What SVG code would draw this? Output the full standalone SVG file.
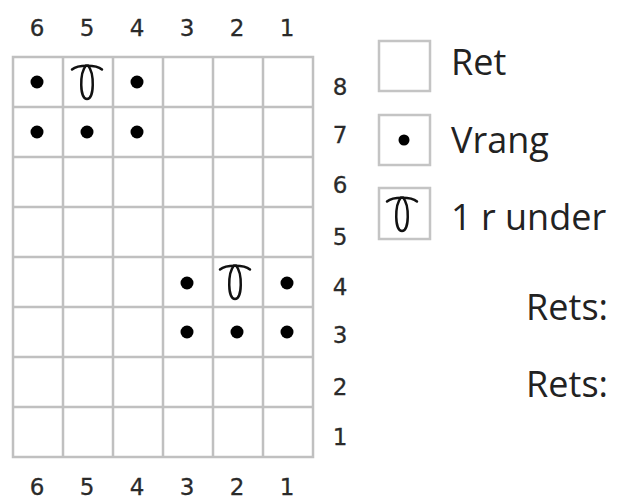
<svg xmlns="http://www.w3.org/2000/svg" width="617" height="499" viewBox="0 0 617 499">
<defs>
<style>
.grid{stroke:#c0c0c0;stroke-width:2.5;fill:none}
.box{stroke:#c4c4c4;stroke-width:2.5;fill:#fff}
.num{font-family:"DejaVu Sans",sans-serif;font-size:23px;fill:#2a2a2a;text-anchor:middle;stroke:#2a2a2a;stroke-width:0.3}
.lbl{font-family:"Open Sans",sans-serif;font-size:36px;fill:#222}
.dot{fill:#000}
.loop{stroke:#111;stroke-width:2.5;fill:none;stroke-linecap:round}
</style>
<g id="loopsym">
<path d="M-15,4.5 C-9,-0.5 9,-0.5 15,4.5"/>
<path d="M-1,0.5 C-7.5,8 -7.5,34 0,34 C7.5,34 7.5,8 1,0.5"/>
</g>
</defs>
<rect width="617" height="499" fill="#fff"/>
<g id="grid" class="grid">
<rect x="13" y="57" width="300" height="400"/>
<path d="M63,57V457M113,57V457M163,57V457M213,57V457M263,57V457"/>
<path d="M13,107H313M13,157H313M13,207H313M13,257H313M13,307H313M13,357H313M13,407H313"/>
</g>
<g id="top-numbers">
<text class="num" x="37" y="36">6</text>
<text class="num" x="87" y="36">5</text>
<text class="num" x="137" y="36">4</text>
<text class="num" x="187" y="36">3</text>
<text class="num" x="237" y="36">2</text>
<text class="num" x="287" y="36">1</text>
</g>
<g id="bottom-numbers">
<text class="num" x="37" y="495">6</text>
<text class="num" x="87" y="495">5</text>
<text class="num" x="137" y="495">4</text>
<text class="num" x="187" y="495">3</text>
<text class="num" x="237" y="495">2</text>
<text class="num" x="287" y="495">1</text>
</g>
<g id="row-numbers">
<text class="num" x="340" y="95">8</text>
<text class="num" x="340" y="143">7</text>
<text class="num" x="340" y="193">6</text>
<text class="num" x="340" y="245">5</text>
<text class="num" x="340" y="295">4</text>
<text class="num" x="340" y="343">3</text>
<text class="num" x="340" y="395">2</text>
<text class="num" x="340" y="445">1</text>
</g>
<g id="stitches">
<circle class="dot" cx="37" cy="82" r="6.5"/>
<circle class="dot" cx="137" cy="82" r="6.5"/>
<circle class="dot" cx="37" cy="132" r="6.5"/>
<circle class="dot" cx="87" cy="132" r="6.5"/>
<circle class="dot" cx="137" cy="132" r="6.5"/>
<circle class="dot" cx="187" cy="283" r="6.5"/>
<circle class="dot" cx="287" cy="283" r="6.5"/>
<circle class="dot" cx="187" cy="332" r="6.5"/>
<circle class="dot" cx="237" cy="332" r="6.5"/>
<circle class="dot" cx="287" cy="332" r="6.5"/>
<use href="#loopsym" class="loop" x="87" y="65"/>
<use href="#loopsym" class="loop" x="235" y="265"/>
</g>
<g id="legend-ret">
<rect class="box" x="379" y="41" width="51" height="50"/>
<text class="lbl" x="451" y="75">Ret</text>
</g>
<g id="legend-vrang">
<rect class="box" x="379" y="115" width="51" height="50"/>
<circle class="dot" cx="404" cy="140" r="5.5"/>
<text class="lbl" x="451" y="153">Vrang</text>
</g>
<g id="legend-under">
<rect class="box" x="379" y="188" width="51" height="51"/>
<use href="#loopsym" class="loop" x="402" y="197"/>
<text class="lbl" x="451" y="230">1 r under</text>
</g>
<g id="notes">
<text class="lbl" x="608" y="320" text-anchor="end">Rets:</text>
<text class="lbl" x="608" y="397" text-anchor="end">Rets:</text>
</g>
</svg>
